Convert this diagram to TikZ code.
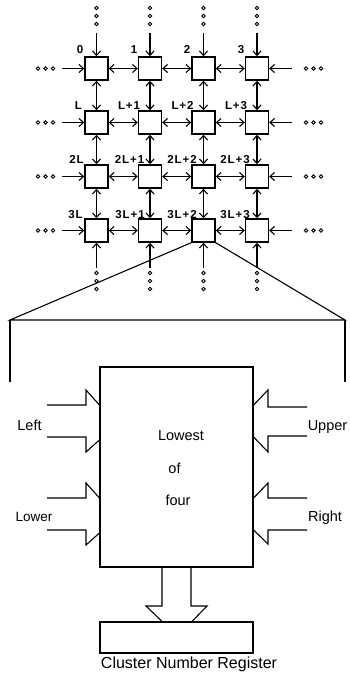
\documentclass[tikz,border=0pt]{standalone}
\usepackage{fontspec}
\setmainfont{Liberation Sans}
\newfontfamily\gridfont{Liberation Sans}[LetterSpace=8]
\usetikzlibrary{arrows.meta}
\begin{document}
\begin{tikzpicture}[x=1pt,y=-1pt,
  cell/.style={draw,line width=1.4pt,minimum size=23pt,inner sep=0pt,fill=white},
  link/.style={line width=1.1pt},
  tip/.style={-{Straight Barb[length=4.5pt,width=8pt,line width=1.1pt]}},
  dbl/.style={{Straight Barb[length=4.5pt,width=8pt,line width=1.1pt]}-{Straight Barb[length=4.5pt,width=8pt,line width=1.1pt]}},
  dotc/.style={line width=0.9pt},
  lbl/.style={font=\gridfont\bfseries\fontsize{11.5}{13}\selectfont,anchor=base,inner sep=0pt},
  txt/.style={font=\fontsize{14.5}{17}\selectfont,anchor=base,inner sep=0pt},
  thin/.style={line width=1.1pt},
  blk/.style={draw,line width=1.2pt,inner sep=0pt}
]
\useasboundingbox (0,0) rectangle (350,674);
% grid cells
\foreach \i in {0,...,3}{
  \foreach \j in {0,...,3}{
    \node[cell] (n\i\j) at ({96.5+53.5*\j},{68.5+54*\i}) {};
  }
}
% horizontal and vertical links
\foreach \i in {0,...,3}{
  \foreach \j/\k in {0/1,1/2,2/3}{
    \draw[link,dbl] (n\i\j) -- (n\i\k);
    \draw[link,dbl] (n\j\i) -- (n\k\i);
  }
}
% boundary inputs
\foreach \j in {0,...,3}{
  \pgfmathsetmacro{\cx}{96.5+53.5*\j}
  \coordinate (t\j) at (\cx,33);
  \coordinate (b\j) at (\cx,268);
  \draw[link,tip] (t\j) -- (n0\j);
  \draw[link,tip] (b\j) -- (n3\j);
  \foreach \yy in {8,16,24,273,281,289}{
    \draw[dotc] (\cx,\yy) circle (1.8pt);
  }
}
\foreach \i in {0,...,3}{
  \pgfmathsetmacro{\cy}{68.5+54*\i}
  \coordinate (l\i) at (62,\cy);
  \coordinate (r\i) at (292,\cy);
  \draw[link,tip] (l\i) -- (n\i0);
  \draw[link,tip] (r\i) -- (n\i3);
  \foreach \xx in {38,45.5,53,306,313.5,321}{
    \draw[dotc] (\xx,\cy) circle (1.8pt);
  }
}
% labels
\node[lbl] (a00) at (80,54) {0};
\node[lbl] (a01) at (134,54) {1};
\node[lbl] (a02) at (187,54) {2};
\node[lbl] (a03) at (241,54) {3};
\node[lbl] (a10) at (78.5,110) {L};
\node[lbl] (a11) at (129,110) {L+1};
\node[lbl] (a12) at (182.5,110) {L+2};
\node[lbl] (a13) at (236,110) {L+3};
\node[lbl] (a20) at (76.5,163.5) {2L};
\node[lbl] (a21) at (129.5,163.5) {2L+1};
\node[lbl] (a22) at (182,163.5) {2L+2};
\node[lbl] (a23) at (235,163.5) {2L+3};
\node[lbl] (a30) at (75.5,218) {3L};
\node[lbl] (a31) at (130,218) {3L+1};
\node[lbl] (a32) at (182,218) {3L+2};
\node[lbl] (a33) at (235,218) {3L+3};
% fan-out
\coordinate (fl) at (10,320);
\coordinate (fr) at (345,320);
\coordinate (flb) at (10,382);
\coordinate (frb) at (345,382);
\draw[thin] (n32.south west) -- (fl) -- (fr) -- (n32.south east);
\draw[thin] (fl) -- (flb);
\draw[thin] (fr) -- (frb);
% main box and register
\node[blk,minimum width=153pt,minimum height=200pt] (main) at (176.5,467) {};
\node[blk,minimum width=153pt,minimum height=31pt] (reg) at (176.5,637.5) {};
% block arrows
\draw[thin] (47,405) -- (86,405) -- (86,390) -- (main.west |- 0,405);
\draw[thin] (47,437) -- (86,437) -- (86,452) -- (main.west |- 0,440);
\draw[thin] (47,498) -- (86,498) -- (86,483) -- (main.west |- 0,498);
\draw[thin] (47,530) -- (86,530) -- (86,545) -- (main.west |- 0,533);
\draw[thin] (307,407) -- (268,407) -- (268,390) -- (main.east |- 0,405);
\draw[thin] (307,436) -- (268,436) -- (268,452) -- (main.east |- 0,437);
\draw[thin] (307,498) -- (268,498) -- (268,483) -- (main.east |- 0,498);
\draw[thin] (307,530) -- (268,530) -- (268,544) -- (main.east |- 0,530);
\draw[thin] (main.south -| 162,0) -- (162,606) -- (146,606) -- (reg.north -| 162,0);
\draw[thin] (main.south -| 191,0) -- (191,606) -- (207,606) -- (reg.north -| 192,0);
% texts
\node[txt] (tl) at (29.5,430) {Left};
\node[txt] (tu) at (327.5,430.5) {Upper};
\node[txt,font=\fontsize{13.5}{16}\selectfont] (tlo) at (34,521.5) {Lower};
\node[txt] (tr) at (325,521.5) {Right};
\node[txt] (t1) at (181,440.5) {Lowest};
\node[txt] (t2) at (174.5,473.3) {of};
\node[txt] (t3) at (178,505) {four};
\node[txt,font=\fontsize{16}{19}\selectfont] (tc) at (189,668) {Cluster Number Register};
\end{tikzpicture}
\end{document}
